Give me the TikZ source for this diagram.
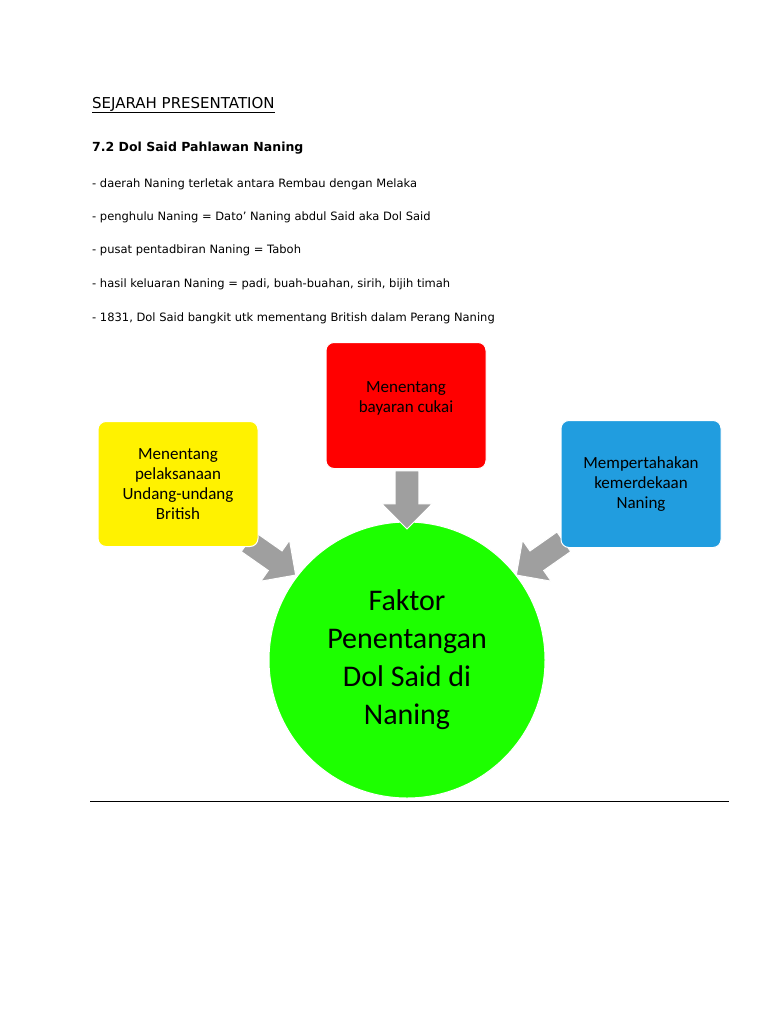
\documentclass[tikz,border=0pt]{standalone}
\usepackage{fontspec}
\setmainfont{Carlito}
\newfontfamily\hand{DejaVu Sans}
\usetikzlibrary{shapes.arrows}
\begin{document}
\begin{tikzpicture}[x=1pt,y=-1pt,
  box/.style={draw=white,line width=1pt,rounded corners=8pt,minimum width=160pt,minimum height=125pt,align=center,font=\fontsize{17}{20}\selectfont,inner sep=4pt},
  txt/.style={anchor=west,font=\hand\fontsize{11.5}{13}\selectfont,inner sep=0pt},
  garrow/.style={single arrow,fill=gray!75,draw=white,line width=1pt,minimum height=58pt,minimum width=50pt,single arrow head extend=6pt,inner sep=5pt}]
\useasboundingbox (0,0) rectangle (768,1024);
\node[txt,font=\hand\fontsize{15}{17}\selectfont] (title) at (92,105) {\underline{SEJARAH PRESENTATION}};
\node[txt,font=\hand\bfseries\fontsize{12.5}{15}\selectfont] (sub) at (92,148) {7.2 Dol Said Pahlawan Naning};
\node[txt] (l1) at (92,184) {- daerah Naning terletak antara Rembau dengan Melaka};
\node[txt] (l2) at (92,217) {- penghulu Naning = Dato’ Naning abdul Said aka Dol Said};
\node[txt] (l3) at (92,250) {- pusat pentadbiran Naning = Taboh};
\node[txt] (l4) at (92,284) {- hasil keluaran Naning = padi, buah-buahan, sirih, bijih timah};
\node[txt] (l5) at (92,318) {- 1831, Dol Said bangkit utk mementang British dalam Perang Naning};
\node[circle,fill=green!85!lime,draw=white,line width=1pt,minimum size=276pt,align=center,font=\fontsize{30}{38}\selectfont] (c) at (407,660) {Faktor\\Penentangan\\Dol Said di\\Naning};
\node[garrow,rotate=-90] (a2) at (407,494) {};
\node[garrow,rotate=-35] (a1) at (267,555) {};
\node[garrow,rotate=-145] (a3) at (545,555) {};
\node[box,fill=yellow] (y) at (178,484) {Menentang\\pelaksanaan\\Undang-undang\\British};
\node[box,fill=red,anchor=north,minimum height=126pt] (r) at (406,342) {};
\node[align=center,font=\fontsize{17}{20}\selectfont,anchor=north] (rt) at (406,378) {Menentang\\bayaran cukai};
\node[box,fill=cyan!80!blue!90,minimum height=127pt] (b) at (641,484) {Mempertahakan\\kemerdekaan\\Naning};
\draw[line width=0.8pt] (90,801) -- (729,801);
\end{tikzpicture}
\end{document}
